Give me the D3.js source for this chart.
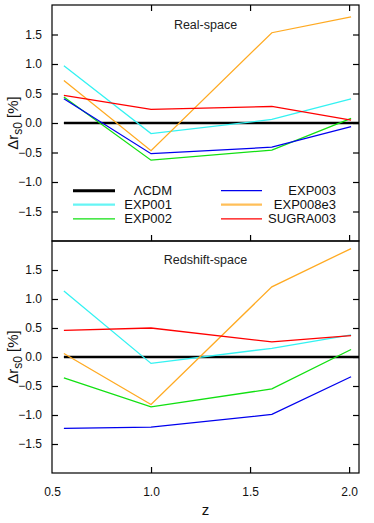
<!DOCTYPE html>
<html><head><meta charset="utf-8">
<script src="https://cdn.jsdelivr.net/npm/d3@7"></script>
<style>
html,body{margin:0;padding:0;background:#fff;}
svg{display:block;font-family:"Liberation Sans",Arial,sans-serif;}
</style></head>
<body><svg id="c" width="374" height="523"></svg>
<script>
const z = [0.56, 1.0, 1.61, 2.01];
const seriesNames = ["ΛCDM", "EXP001", "EXP002", "EXP003", "EXP008e3", "SUGRA003"];
const seriesColors = ["#000000", "#33f2f2", "#11e011", "#0000ee", "#ffaa22", "#ff0000"];
const realLCDM     = [0, 0, 0, 0];
const realEXP001   = [0.97, -0.18, 0.06, 0.41];
const realEXP002   = [0.44, -0.63, -0.46, 0.08];
const realEXP003   = [0.41, -0.52, -0.41, -0.06];
const realEXP008e3 = [0.72, -0.47, 1.53, 1.80];
const realSUGRA003 = [0.47, 0.23, 0.28, 0.05];
const rsdLCDM      = [0, 0, 0, 0];
const rsdEXP001    = [1.14, -0.11, 0.15, 0.38];
const rsdEXP002    = [-0.36, -0.86, -0.55, 0.13];
const rsdEXP003    = [-1.23, -1.21, -0.99, -0.34];
const rsdEXP008e3  = [0.06, -0.82, 1.21, 1.87];
const rsdSUGRA003  = [0.46, 0.50, 0.26, 0.37];
const xTicks = [0.5, 1.0, 1.5, 2.0];
const yTicks = [-1.5, -1.0, -0.5, 0.0, 0.5, 1.0, 1.5];
const panelTitles = ["Real-space", "Redshift-space"];

const svg = d3.select("#c");
const L = 52, R = 359;
const x = d3.scaleLinear().domain([0.5, 2.05]).range([L, R]);
const panels = [
  {top: 5, bottom: 241, data: [realLCDM, realEXP001, realEXP002, realEXP003, realEXP008e3, realSUGRA003], title: panelTitles[0], titleY: 29, legend: true, bottomLabels: false},
  {top: 241, bottom: 473, data: [rsdLCDM, rsdEXP001, rsdEXP002, rsdEXP003, rsdEXP008e3, rsdSUGRA003], title: panelTitles[1], titleY: 264, legend: false, bottomLabels: true}
];
const fmt = d3.format(".1f");

panels.forEach((p, pi) => {
  const y = d3.scaleLinear().domain([-2, 2]).range([p.bottom, p.top]);
  const g = svg.append("g");
  const line = d3.line().x((d, i) => x(z[i])).y(d => y(d));
  p.data.forEach((vals, si) => {
    g.append("path").datum(vals)
      .attr("d", si === 0 ? d3.line().x((d, i) => i === vals.length - 1 ? x(2.05) : x(z[i])).y(d => y(d))(vals) : line(vals))
      .attr("fill", "none")
      .attr("stroke", seriesColors[si])
      .attr("stroke-width", si === 0 ? 2.6 : 1.3);
  });
  g.append("rect").attr("x", L).attr("y", p.top).attr("width", R - L).attr("height", p.bottom - p.top)
    .attr("fill", "none").attr("stroke", "#000").attr("stroke-width", 1.2);
  const yl = d3.axisLeft(y).tickValues(yTicks).tickSize(-6).tickPadding(10).tickFormat(fmt);
  const ya = g.append("g").attr("transform", `translate(${L},0)`).call(yl);
  ya.select(".domain").remove();
  ya.selectAll("text").attr("font-size", 12).attr("fill", "#111").attr("font-family", "Liberation Sans, Arial, sans-serif");
  const yr = d3.axisRight(y).tickValues(yTicks).tickSize(-6).tickFormat("");
  const yra = g.append("g").attr("transform", `translate(${R},0)`).call(yr);
  yra.select(".domain").remove();
  if (pi === 0) {
    const xt = d3.axisTop(x).tickValues(xTicks.slice(1)).tickSize(-6).tickFormat("");
    const xta = g.append("g").attr("transform", `translate(0,${p.top})`).call(xt);
    xta.select(".domain").remove();
  }
  const xb = d3.axisBottom(x).tickValues(xTicks).tickSize(-6).tickPadding(14).tickFormat(p.bottomLabels ? fmt : "");
  const xba = g.append("g").attr("transform", `translate(0,${p.bottom})`).call(xb);
  xba.select(".domain").remove();
  xba.selectAll(".tick").filter(d => d === 0.5).select("line").remove();
  xba.selectAll("text").attr("font-size", 12).attr("fill", "#111").attr("font-family", "Liberation Sans, Arial, sans-serif");
  svg.selectAll(".tick line").attr("stroke", "#000").attr("stroke-width", 1.2);
  g.append("text").attr("x", (L + R) / 2).attr("y", p.titleY).attr("text-anchor", "middle")
    .attr("font-size", 12.5).attr("fill", "#222").text(p.title);
  const cy = (p.top + p.bottom) / 2;
  const t = g.append("text").attr("transform", `translate(18,${cy}) rotate(-90)`).attr("text-anchor", "middle")
    .attr("font-size", 15).attr("fill", "#111");
  t.append("tspan").text("Δr");
  t.append("tspan").attr("font-size", 12).attr("dy", 4).text("s0");
  t.append("tspan").attr("dy", -4).text(" [%]");
  if (p.legend) {
    const rows = [190.7, 204.6, 218.8];
    const cols = [{x0: 73, x1: 115, tx: 172}, {x0: 221, x1: 262, tx: 336}];
    const lw = [3, 2.4, 1.3, 1.3, 2.4, 1.3];
    seriesNames.forEach((nm, i) => {
      const c = cols[Math.floor(i / 3)], r = rows[i % 3];
      g.append("line").attr("x1", c.x0).attr("x2", c.x1).attr("y1", r).attr("y2", r)
        .attr("stroke", seriesColors[i]).attr("stroke-width", lw[i]).attr("stroke-opacity", i === 1 || i === 4 ? 0.75 : 1);
      g.append("text").attr("x", c.tx).attr("y", r + 4.6).attr("text-anchor", "end")
        .attr("font-size", 13).attr("fill", "#111").text(nm);
    });
  }
});
svg.append("text").attr("x", (L + R) / 2).attr("y", 515).attr("text-anchor", "middle")
  .attr("font-size", 15).attr("fill", "#111").text("z");
</script></body></html>
